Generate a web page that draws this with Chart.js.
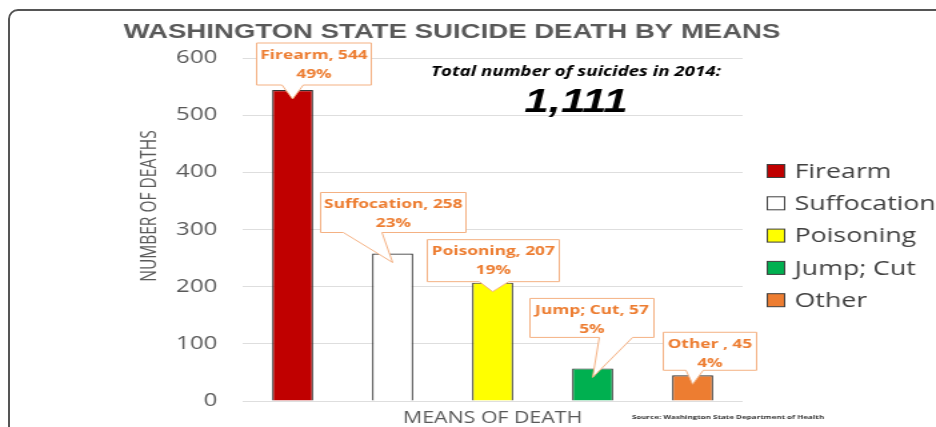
<!DOCTYPE html>
<html>
<head>
<meta charset="utf-8">
<script src="https://cdn.jsdelivr.net/npm/chart.js@4/dist/chart.umd.min.js"></script>
<style>
  body { margin: 0; background: #fff; overflow: hidden; width: 936px; height: 427px; }
  #frame { position: absolute; left: 8px; top: 9px; width: 1000px; height: 600px;
           border: 2px solid #555; border-radius: 10px; box-sizing: border-box; }
  #wrap { position: absolute; left: 0; top: 0; width: 702px; height: 427px;
          transform: scaleX(1.33333); transform-origin: 0 0; }
</style>
</head>
<body>
<div id="frame"></div>
<div id="wrap"><canvas id="chart" width="702" height="427"></canvas></div>
<script>
// data
const chartTitle = "WASHINGTON STATE SUICIDE DEATH BY MEANS";
const categories = ["Firearm", "Suffocation", "Poisoning", "Jump; Cut", "Other"];
const deaths = [544, 258, 207, 57, 45];
const percents = [49, 23, 19, 5, 4];
const calloutNames = ["Firearm", "Suffocation", "Poisoning", "Jump; Cut", "Other "];
const barColors = ["#c00000", "#ffffff", "#ffff00", "#00b050", "#ed7d31"];
const yMax = 600, yStep = 100;
const totalLabel = "Total number of suicides in 2014:";
const totalValue = "1,111";
const sourceNote = "Source: Washington State Department of Health";

// callout boxes: [boxLeft, boxRight, boxTop, boxBottom, tailLeft, tailRight] relative to bar top centre
const calloutBoxes = [
    [-27, 59, -47, -5, -8, 8],
    [-54, 55, -61, -21, -37, -8],
    [-49, 50, -43, -1, -10, 12],
    [-47, 46, -70, -31, 5, 30],
    [-22, 48, -43, -5, -5, 8]
];

const annotate = {
    id: "annotate",
    afterDraw(chart) {
        const ctx = chart.ctx;
        const meta = chart.getDatasetMeta(0);
        ctx.save();
        ctx.textAlign = "center";
        ctx.textBaseline = "middle";

        // title
        ctx.fillStyle = "#595959";
        ctx.font = "bold 20.7px 'Liberation Sans', Arial, sans-serif";
        ctx.fillText(chartTitle, 339, 32);

        // y axis title
        ctx.save();
        ctx.translate(113, 206);
        ctx.rotate(-Math.PI / 2);
        ctx.font = "15.5px 'Open Sans', sans-serif";
        ctx.fillText("NUMBER OF DEATHS", 0, 0);
        ctx.restore();

        // total
        ctx.fillStyle = "#000";
        ctx.font = "italic bold 14px 'Open Sans', sans-serif";
        ctx.fillText(totalLabel, 432, 72);
        ctx.font = "italic bold 33px 'Liberation Sans', Arial, sans-serif";
        ctx.fillText(totalValue, 432, 103);

        // source
        ctx.fillStyle = "#333";
        ctx.font = "bold 6px 'Open Sans', sans-serif";
        ctx.fillText(sourceNote, 546, 417);

        // callouts
        meta.data.forEach((bar, i) => {
            const o = calloutBoxes[i];
            const cx = bar.x, ty = bar.y;
            const L = cx + o[0], R = cx + o[1], T = ty + o[2], B = ty + o[3];
            ctx.beginPath();
            ctx.moveTo(L, T);
            ctx.lineTo(R, T);
            ctx.lineTo(R, B);
            ctx.lineTo(cx + o[5], B);
            ctx.lineTo(cx, ty + 9);
            ctx.lineTo(cx + o[4], B);
            ctx.lineTo(L, B);
            ctx.closePath();
            ctx.fillStyle = "#fff";
            ctx.fill();
            ctx.strokeStyle = "#f4b183";
            ctx.lineWidth = 1;
            ctx.stroke();
            ctx.fillStyle = "#ed7d31";
            ctx.font = "bold 13px 'Open Sans', sans-serif";
            ctx.fillText(calloutNames[i] + ", " + deaths[i], (L + R) / 2, T + 12);
            ctx.fillText(percents[i] + "%", (L + R) / 2, T + 31);
        });

        // legend
        ctx.textAlign = "left";
        ctx.font = "20px 'Open Sans', sans-serif";
        categories.forEach((name, i) => {
            const y = 171 + i * 32.3;
            ctx.fillStyle = barColors[i];
            ctx.fillRect(575.5, y - 6.5, 13, 13);
            ctx.strokeStyle = "#404040";
            ctx.lineWidth = 1;
            ctx.strokeRect(575.5, y - 6.5, 13, 13);
            ctx.fillStyle = "#404040";
            ctx.fillText(name, 596, y + 1);
        });
        ctx.restore();
    }
};

new Chart(document.getElementById("chart"), {
    type: "bar",
    data: {
        labels: categories,
        datasets: [{
            data: deaths,
            backgroundColor: barColors,
            borderColor: "#333",
            borderWidth: 1.2,
            barPercentage: 0.41,
            categoryPercentage: 1
        }]
    },
    options: {
        responsive: false,
        animation: false,
        layout: { padding: { left: 100, right: 145, top: 58, bottom: 0 } },
        plugins: { legend: { display: false }, tooltip: { enabled: false } },
        scales: {
            x: {
                ticks: { display: false },
                grid: { display: false, drawTicks: false },
                border: { display: false },
                title: {
                    display: true,
                    text: "MEANS OF DEATH",
                    color: "#595959",
                    font: { family: "'Open Sans', sans-serif", size: 16, lineHeight: 1 },
                    padding: { top: 0, bottom: 1 }
                },
                afterFit(scale) { scale.height = 26; }
            },
            y: {
                min: 0,
                max: yMax,
                ticks: {
                    stepSize: yStep,
                    padding: 19,
                    color: "#595959",
                    font: { family: "'Open Sans', sans-serif", size: 18 }
                },
                grid: { color: "#dedede", lineWidth: 1, drawTicks: false },
                border: { display: false },
                afterFit(scale) {
                    scale.width = 82;
                    scale.paddingTop = 0;
                    scale.paddingBottom = 0;
                }
            }
        }
    },
    plugins: [annotate]
});
</script>
</body>
</html>
